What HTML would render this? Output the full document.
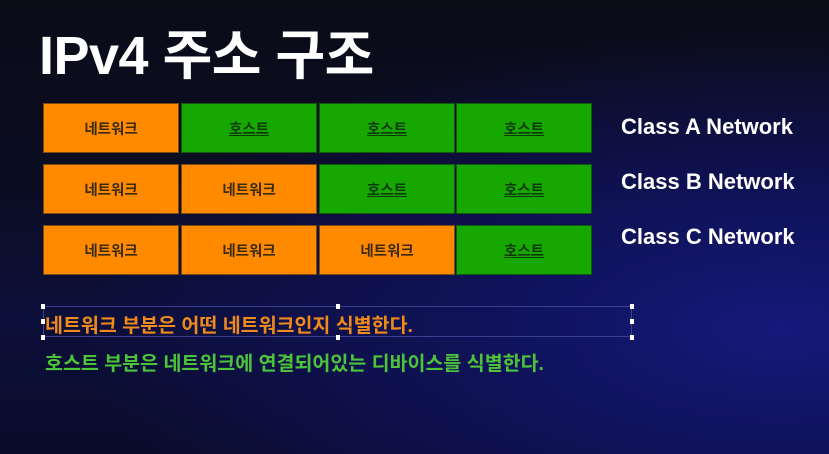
<!DOCTYPE html>
<html><head><meta charset="utf-8"><style>
*{margin:0;padding:0;box-sizing:border-box}
body{width:829px;height:454px;overflow:hidden;position:relative;font-family:"Liberation Sans","Noto Sans CJK KR",sans-serif;
background:radial-gradient(ellipse 700px 300px at 780px 330px,#16197a 0%,#0f1257 45%,rgba(11,13,40,0) 100%),linear-gradient(180deg,#0b0c18 0%,#0b0d22 40%,#0c0f3a 70%,#0a0c2a 100%);}
.title{position:absolute;left:39px;top:11px;font-size:54px;font-weight:bold;color:#fff;letter-spacing:-0.5px}
.cell{position:absolute;width:136px;height:50px;display:flex;align-items:center;justify-content:center;font-size:14.5px;font-weight:bold;color:#3a2a10;border:1px solid #7a4a10}
.net{background:#ff8a00}
.host{background:#16a800;color:#0d3a08;text-decoration:underline;border-color:#0c5a0a}
.cls{position:absolute;left:621px;font-size:22px;font-weight:bold;color:#fff}
.t{position:absolute;left:45px;font-size:19.5px;font-weight:bold}
.sel{position:absolute;left:43px;top:306px;width:589px;height:31px;border:1px solid #3a3f90}
.h{position:absolute;width:4px;height:5px;background:#fff}
</style></head><body>
<div class="title">IPv4 주소 구조</div>
<div id="grid"></div>
<div class="cls" style="top:114px">Class A Network</div>
<div class="cls" style="top:169px">Class B Network</div>
<div class="cls" style="top:224px">Class C Network</div>
<div class="sel"></div>
<div class="h" style="left:41px;top:304px"></div><div class="h" style="left:336px;top:304px"></div><div class="h" style="left:630px;top:304px"></div>
<div class="h" style="left:41px;top:319px"></div><div class="h" style="left:630px;top:319px"></div>
<div class="h" style="left:41px;top:335px"></div><div class="h" style="left:336px;top:335px"></div><div class="h" style="left:630px;top:335px"></div>
<div class="t" style="top:309px;color:#f08a1a">네트워크 부분은 어떤 네트워크인지 식별한다.</div>
<div class="t" style="top:347px;color:#4cc43a">호스트 부분은 네트워크에 연결되어있는 디바이스를 식별한다.</div>
<script>
const networkOctets=[1,2,3];
const colX=[43,181,319,456], rowY=[103,164,225];
const g=document.getElementById('grid');
networkOctets.forEach((n,r)=>{
  for(let c=0;c<4;c++){
    const d=document.createElement('div');
    const isNet=c<n;
    d.className='cell '+(isNet?'net':'host');
    d.style.left=colX[c]+'px';d.style.top=rowY[r]+'px';
    d.textContent=isNet?'네트워크':'호스트';
    
    
    g.appendChild(d);
  }
});
</script>
</body></html>
